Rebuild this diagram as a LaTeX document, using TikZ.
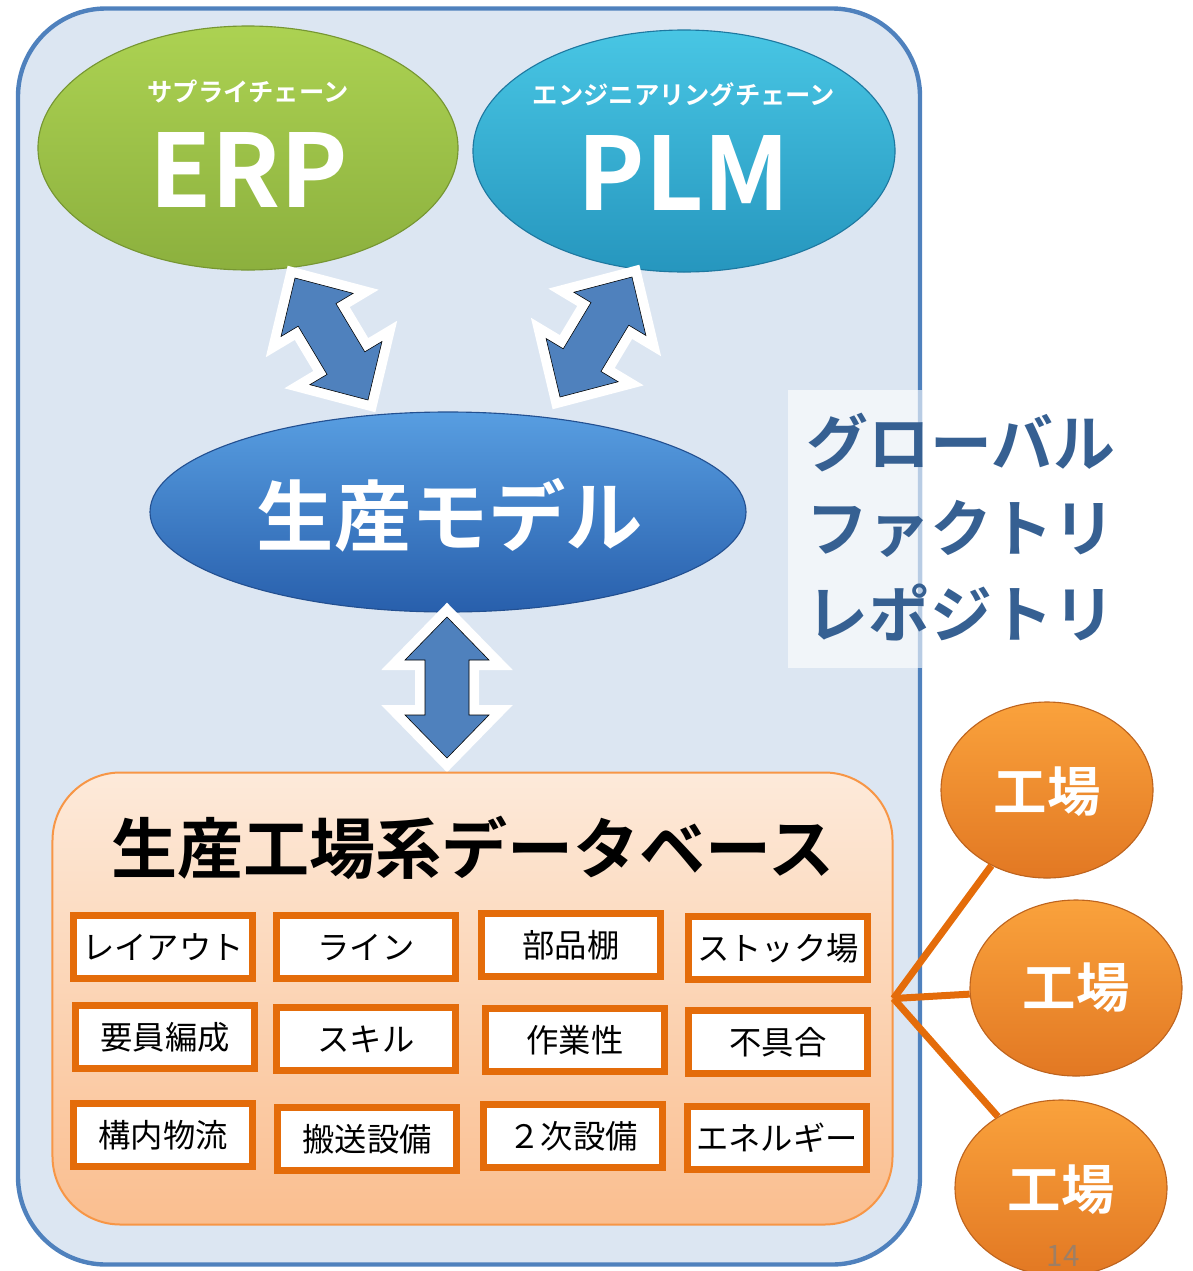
\documentclass[tikz,border=0pt]{standalone}
\usepackage{fontspec}
\setmainfont{Noto Sans CJK JP}[BoldFont={Noto Sans CJK JP Bold}]
\usetikzlibrary{shapes,calc,positioning}
\definecolor{framefill}{RGB}{220,230,242}
\definecolor{frameline}{RGB}{79,129,189}
\definecolor{erptop}{RGB}{172,210,82}
\definecolor{erpbot}{RGB}{140,176,62}
\definecolor{erpline}{RGB}{118,150,50}
\definecolor{plmtop}{RGB}{72,198,228}
\definecolor{plmbot}{RGB}{38,150,190}
\definecolor{plmline}{RGB}{30,120,160}
\definecolor{modtop}{RGB}{88,158,225}
\definecolor{modbot}{RGB}{40,95,172}
\definecolor{modline}{RGB}{35,80,145}
\definecolor{arrowblue}{RGB}{79,129,189}
\definecolor{dbtop}{RGB}{253,234,218}
\definecolor{dbbot}{RGB}{250,190,143}
\definecolor{dbline}{RGB}{247,150,70}
\definecolor{itemline}{RGB}{228,108,10}
\definecolor{fcttop}{RGB}{250,162,60}
\definecolor{fctbot}{RGB}{226,120,35}
\definecolor{fctline}{RGB}{190,100,30}
\definecolor{repotext}{RGB}{54,96,146}
\tikzset{
	outerbox/.style={rectangle,rounded corners=22mm,draw=frameline,fill=framefill,line width=1.1mm,minimum width=225.5mm,minimum height=314mm,inner sep=0},
	panel/.style={fill=white,fill opacity=0.6},
	oval/.style={ellipse,inner sep=0,line width=0.8pt},
	subtxt/.style={text=white,font=\fontsize{18}{20}\selectfont\bfseries,inner sep=0},
	systxt/.style={text=white,font=\fontsize{72}{76}\selectfont\bfseries,inner sep=0},
	modtxt/.style={text=white,font=\fontsize{55}{60}\selectfont\bfseries,inner sep=0},
	dbbox/.style={rectangle,rounded corners=17mm,draw=dbline,line width=0.5mm,top color=dbtop,bottom color=dbbot,minimum width=210mm,minimum height=113mm,inner sep=0},
	dbtitle/.style={text=black,font=\fontsize{47}{50}\selectfont\bfseries,inner sep=0},
	item/.style={rectangle,draw=itemline,fill=white,line width=1.75mm,minimum width=44.75mm,minimum height=15.75mm,inner sep=0,font=\fontsize{23}{25}\selectfont},
	factory/.style={oval,top color=fcttop,bottom color=fctbot,draw=fctline,minimum width=53mm,minimum height=44mm},
	fcttxt/.style={text=white,font=\fontsize{38}{40}\selectfont\bfseries,inner sep=0},
	link/.style={draw=itemline,line width=1.75mm},
	arrowbody/.style={fill=arrowblue,preaction={draw=white,line width=5mm,line join=miter}},
	repo/.style={text=repotext,font=\fontsize{44}{61}\selectfont\bfseries,align=left,inner sep=0}
}
\newcommand{\dblarrow}[2]{%
	\draw[arrowbody] (#1)
	-- ($(#1)!10.75mm!(#2)!10.5mm!90:(#2)$)
	-- ($(#1)!10.75mm!(#2)!5.5mm!90:(#2)$)
	-- ($(#2)!10.75mm!(#1)!5.5mm!-90:(#1)$)
	-- ($(#2)!10.75mm!(#1)!10.5mm!-90:(#1)$)
	-- (#2)
	-- ($(#2)!10.75mm!(#1)!10.5mm!90:(#1)$)
	-- ($(#2)!10.75mm!(#1)!5.5mm!90:(#1)$)
	-- ($(#1)!10.75mm!(#2)!5.5mm!-90:(#2)$)
	-- ($(#1)!10.75mm!(#2)!10.5mm!-90:(#2)$)
	-- cycle;}

\begin{document}
\begin{tikzpicture}[x=0.25mm,y=-0.25mm]
	\useasboundingbox (0,0) rectangle (1192,1271);
	
	%%% repository frame
	\node[outerbox] (frame) at (469,636.5) {};
	\fill[panel] (788,390) rectangle (922,668);
	\node[repo,anchor=west] (repo) at (806,527) {グローバル\\ファクトリ\\レポジトリ};
	
	%%% upper systems
	\node[oval,top color=erptop,bottom color=erpbot,draw=erpline,minimum width=105mm,minimum height=61mm] (erp) at (248,148) {};
	\node[subtxt] (erpsub) at (248,92) {サプライチェーン};
	\node[systxt] (erptxt) at (249,170) {ERP};
	
	\node[oval,top color=plmtop,bottom color=plmbot,draw=plmline,minimum width=105.5mm,minimum height=60.5mm] (plm) at (684,151) {};
	\node[subtxt] (plmsub) at (684,95) {エンジニアリングチェーン};
	\node[systxt] (plmtxt) at (684,173) {PLM};
	
	\node[oval,top color=modtop,bottom color=modbot,draw=modline,minimum width=149mm,minimum height=50mm] (model) at (448,512) {};
	\node[modtxt] (modtxt) at (450,515) {生産モデル};
	
	%%% arrows
	\coordinate (erpend) at (295,278);
	\coordinate (modl) at (368,400);
	\coordinate (plmend) at (632,277);
	\coordinate (modr) at (560,397);
	\coordinate (modb) at (447,617);
	\coordinate (dbt) at (447,758);
	\dblarrow{erpend}{modl}
	\dblarrow{plmend}{modr}
	\dblarrow{modb}{dbt}
	
	%%% database
	\node[dbbox] (db) at (472.5,998.5) {};
	\node[dbtitle] (dbtitle) at (473,848) {生産工場系データベース};
	
	\node[item] (layout) at (163,947) {レイアウト};
	\node[item] (line) at (366,947) {ライン};
	\node[item] (shelf) at (571,945) {部品棚};
	\node[item] (stock) at (778,948) {ストック場};
	\node[item] (crew) at (165,1037) {要員編成};
	\node[item] (skill) at (366,1039) {スキル};
	\node[item] (work) at (575,1040) {作業性};
	\node[item] (defect) at (778,1042) {不具合};
	\node[item] (logis) at (163,1135) {構内物流};
	\node[item] (convey) at (367,1139) {搬送設備};
	\node[item] (second) at (573,1136) {２次設備};
	\node[item] (energy) at (777,1138) {エネルギー};
	
	%%% factories
	\node[factory] (f1) at (1047,790) {};
	\node[factory] (f2) at (1076,988) {};
	\node[factory] (f3) at (1061,1188) {};
	\draw[link] (db.east) -- (f1);
	\draw[link] (db.east) -- (f2);
	\draw[link] (db.east) -- (f3);
	\node[fcttxt] (f1txt) at (1047,792) {工場};
	\node[fcttxt] (f2txt) at (1076,988) {工場};
	\node[fcttxt] (f3txt) at (1061,1190) {工場};
	
	\node[text=gray,text opacity=0.7,font=\fontsize{21}{22}\selectfont,inner sep=0] (page) at (1063,1256) {14};
\end{tikzpicture}
\end{document}
